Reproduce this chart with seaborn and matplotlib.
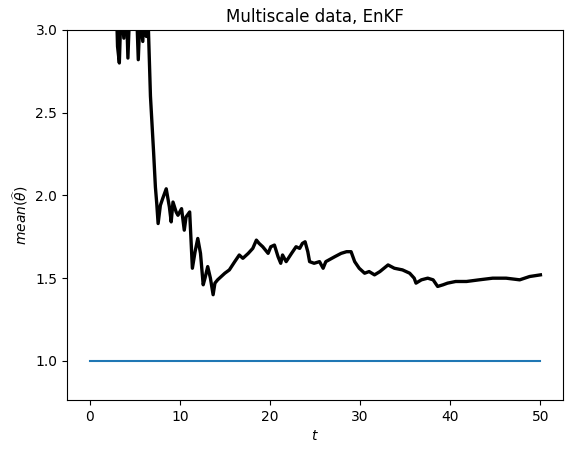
import matplotlib
matplotlib.use("Agg")
import matplotlib.pyplot as plt
import seaborn as sns

# EnKF estimate of mean(theta_hat) over time
t_est = [0, 1.0, 2.0, 2.9, 3.1, 3.3, 3.5, 3.8, 4.0, 4.25, 4.5, 4.8, 5.1, 5.4, 5.6,
         5.9, 6.1, 6.3, 6.5, 6.75, 7.1, 7.3, 7.45, 7.6, 7.85, 8.1, 8.5, 8.85, 9.05,
         9.25, 9.6, 9.8, 10.2, 10.5, 10.7, 11.1, 11.4, 11.7, 12.0, 12.3, 12.6, 12.8,
         13.1, 13.4, 13.7, 13.9, 14.2, 14.6, 15.0, 15.5, 16.1, 16.6, 17.0, 17.6, 18.1,
         18.5, 18.8, 19.2, 19.8, 20.1, 20.5, 20.9, 21.2, 21.4, 21.8, 22.4, 22.9, 23.3,
         23.6, 23.9, 24.2, 24.4, 24.9, 25.5, 25.9, 26.2, 27.2, 27.9, 28.5, 29.0, 29.4,
         29.9, 30.5, 31.0, 31.6, 32.2, 33.1, 33.8, 34.7, 35.5, 36.0, 36.2, 36.8, 37.5,
         38.1, 38.6, 39.2, 39.7, 40.6, 41.8, 43.2, 44.7, 46.2, 47.7, 48.8, 50.0]
theta_est = [5.2, 4.6, 4.0, 3.3, 2.9, 2.80, 3.15, 2.95, 3.3, 2.83, 3.2, 3.05, 3.3, 2.82,
             3.1, 2.93, 3.2, 2.96, 3.05, 2.6, 2.26, 2.05, 1.95, 1.83, 1.94, 1.98, 2.04,
             1.93, 1.84, 1.96, 1.90, 1.88, 1.92, 1.79, 1.87, 1.90, 1.56, 1.66, 1.74, 1.65,
             1.46, 1.50, 1.57, 1.50, 1.40, 1.47, 1.49, 1.51, 1.53, 1.55, 1.60, 1.64, 1.62,
             1.65, 1.68, 1.73, 1.71, 1.69, 1.65, 1.69, 1.70, 1.63, 1.59, 1.64, 1.60, 1.65,
             1.69, 1.68, 1.71, 1.72, 1.66, 1.60, 1.59, 1.60, 1.56, 1.60, 1.63, 1.65, 1.66,
             1.66, 1.60, 1.56, 1.53, 1.54, 1.52, 1.54, 1.58, 1.56, 1.55, 1.53, 1.50, 1.47,
             1.49, 1.50, 1.49, 1.45, 1.46, 1.47, 1.48, 1.48, 1.49, 1.50, 1.50, 1.49, 1.51,
             1.52]

# true value of the homogenised parameter
t_true = [0, 50]
theta_true = [1.0, 1.0]

fig, ax = plt.subplots(figsize=(5.73, 4.53), dpi=100)
fig.subplots_adjust(left=0.117, right=0.9825, top=0.934, bottom=0.117)

sns.lineplot(x=t_est, y=theta_est, color="k", lw=2.4, sort=False, ax=ax)
sns.lineplot(x=t_true, y=theta_true, color="tab:blue", lw=1.5, ax=ax)

ax.set_xlim(-2.5, 52.5)
ax.set_ylim(0.764, 3.0)
ax.set_yticks([1.0, 1.5, 2.0, 2.5, 3.0])
ax.set(xlabel="$t$", ylabel=r"$mean(\widehat{\theta})$", title="Multiscale data, EnKF")

fig.savefig("out.png", dpi=100)
